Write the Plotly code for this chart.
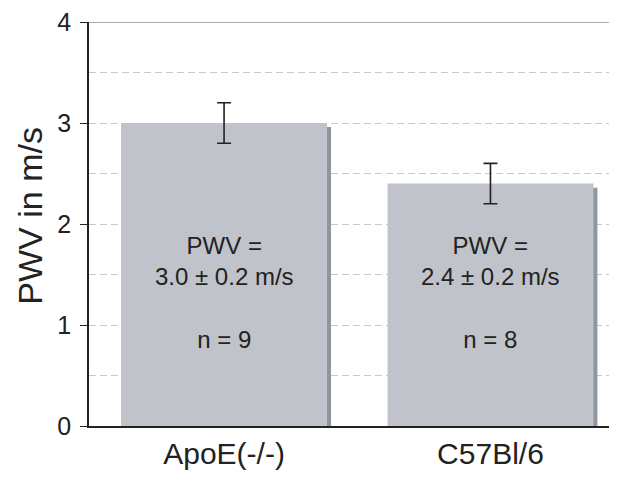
import plotly.graph_objects as go

categories = ["ApoE(-/-)", "C57Bl/6"]
pwv_mean = [3.0, 2.4]
pwv_sd = [0.2, 0.2]
n_animals = [9, 8]
y_ticks = [0, 1, 2, 3, 4]

FONT = "Liberation Sans, Arial, Helvetica, sans-serif"
BAR = "#c0c3c9"
SHADOW = "#8f969c"
TXT = "#222222"

x_pos = list(range(len(categories)))
shadow_dx = 0.015
shadow_dy = 0.04

fig = go.Figure()
fig.add_trace(go.Bar(
    x=[p + shadow_dx for p in x_pos],
    y=[v - shadow_dy for v in pwv_mean],
    width=0.773, marker=dict(color=SHADOW, line=dict(width=0)),
    hoverinfo="skip", showlegend=False,
))
fig.add_trace(go.Bar(
    x=x_pos, y=pwv_mean, width=0.773,
    marker=dict(color=BAR, line=dict(width=0)),
    error_y=dict(type="data", array=pwv_sd, visible=True,
                 color=TXT, thickness=1.6, width=7),
    showlegend=False,
))

for p, m, s, n in zip(x_pos, pwv_mean, pwv_sd, n_animals):
    fig.add_annotation(
        x=p, y=1.32, xref="x", yref="y",
        text=f"PWV =<br>{m:.1f} ± {s:.1f} m/s<br><br>n = {n}",
        showarrow=False, font=dict(family=FONT, size=24, color=TXT),
        align="center",
    )

# y-axis title as rotated annotation
fig.add_annotation(
    x=-0.152, y=0.52, xref="paper", yref="paper",
    text="PWV in m/s", textangle=-90, showarrow=False,
    xanchor="left", yanchor="middle",
    font=dict(family=FONT, size=34, color=TXT),
)

fig.add_shape(type="line", xref="paper", yref="y", x0=0, x1=1, y0=4, y1=4,
              line=dict(color="#8c969b", width=1.5))

fig.update_layout(
    width=609, height=474,
    margin=dict(l=81, r=0, t=14, b=56),
    paper_bgcolor="white", plot_bgcolor="white",
    barmode="overlay",
    font=dict(family=FONT, color=TXT),
    xaxis=dict(
        range=[-0.507, 1.475],
        tickvals=x_pos, ticktext=categories,
        tickfont=dict(size=30, color=TXT),
        showgrid=False, zeroline=False,
        showline=True, linecolor="#222222", linewidth=1.6,
        ticks="", ticklabelstandoff=0,
    ),
    yaxis=dict(
        range=[0, 4],
        tickvals=y_ticks,
        tickfont=dict(size=25, color=TXT),
        ticklabeloverflow="allow",
        showline=True, linecolor="#222222", linewidth=1.6,
        ticks="outside", ticklen=7, tickwidth=1.4, tickcolor="#222222",
        ticklabelstandoff=4,
        showgrid=True, gridcolor="#c8c8c8", griddash="7px,4px", gridwidth=1,
        minor=dict(dtick=0.5, showgrid=True, gridcolor="#c8c8c8",
                   griddash="7px,4px", gridwidth=1),
        zeroline=False,
    ),
)

fig.write_html("out.html")
